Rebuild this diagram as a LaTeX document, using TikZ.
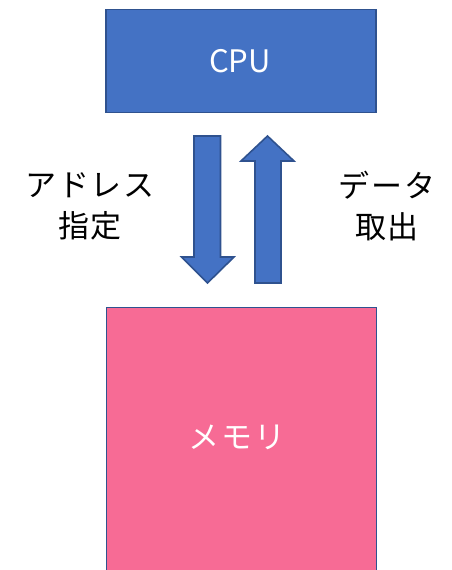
\documentclass[tikz,border=0pt]{standalone}
\usepackage{fontspec}
\setmainfont{Noto Sans CJK JP}
\newfontfamily\jpfont[LetterSpace=6]{Noto Sans CJK JP}
\definecolor{cpublue}{HTML}{4472C4}
\definecolor{edgeblue}{HTML}{2F528F}
\definecolor{mempink}{HTML}{F76B95}
\begin{document}
\begin{tikzpicture}[x=1pt,y=-1pt,
  box/.style={draw=edgeblue,line width=1.6pt},
  blockarrow/.style={draw=edgeblue,fill=cpublue,line width=1.6pt,line join=miter},
  lbl/.style={font=\jpfont\fontsize{31}{41}\selectfont,align=center,inner sep=0pt},
  plainlbl/.style={font=\fontsize{31}{41}\selectfont,align=center,inner sep=0pt}]
\useasboundingbox (0,0) rectangle (452,570);
\clip (0,0) rectangle (452,570);
% CPU box
\node[box,fill=cpublue,minimum width=270pt,minimum height=103pt,anchor=north west,inner sep=0pt] (cpu) at (105,8.5) {};
\node[plainlbl,text=white] (cputext) at (240,61) {CPU};
% memory box
\node[box,fill=mempink,minimum width=270pt,minimum height=280pt,anchor=north west,inner sep=0pt] (mem) at (105.5,306.5) {};
\node[lbl,text=white] (memtext) at (237,437) {メモリ};
% down arrow
\draw[blockarrow] (194,136) -- (220.5,136) -- (220.5,257) -- (234,257) -- (207.5,283) -- (181.5,257) -- (194,257) -- cycle;
% up arrow
\draw[blockarrow] (255,283) -- (281,283) -- (281,161) -- (294,161) -- (267.5,136) -- (241,161) -- (255,161) -- cycle;
% labels
\node[lbl] (addr) at (90,206) {アドレス\\指定};
\node[lbl] (data) at (387,206) {データ\\取出};
\end{tikzpicture}
\end{document}
